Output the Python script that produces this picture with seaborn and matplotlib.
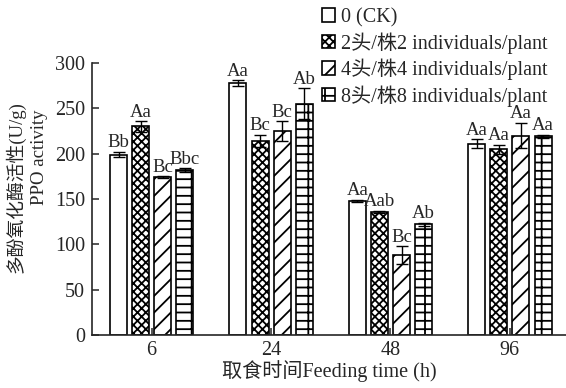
# PPO activity vs feeding time, grouped bars with hatches

import pandas as pd
import seaborn as sns
import matplotlib.pyplot as plt

# values
times = ['6', '24', '48', '96']
groups = ['0 (CK)', '2头/株2 individuals/plant',
          '4头/株4 individuals/plant', '8头/株8 individuals/plant']
ppo_ck = [199, 278, 148, 211]
ppo_2 = [230, 214, 136, 205]
ppo_4 = [174, 225, 88, 220]
ppo_8 = [182, 255, 122, 219]
sd_ck = [3, 3, 1, 5]
sd_2 = [6, 7, 1, 5]
sd_4 = [1, 11, 10, 14]
sd_8 = [2, 17, 2, 2]
letters_ck = ['Bb', 'Aa', 'Aa', 'Aa']
letters_2 = ['Aa', 'Bc', 'Aab', 'Aa']
letters_4 = ['Bc', 'Bc', 'Bc', 'Aa']
letters_8 = ['Bbc', 'Ab', 'Ab', 'Aa']
hatches = ['', 'xxxx', '//', '--|']

values = [ppo_ck, ppo_2, ppo_4, ppo_8]
sds = [sd_ck, sd_2, sd_4, sd_8]
letters = [letters_ck, letters_2, letters_4, letters_8]

df = pd.DataFrame({
    'time': times * 4,
    'group': [g for g in groups for _ in times],
    'ppo': ppo_ck + ppo_2 + ppo_4 + ppo_8,
})

FS = 14.5
sns.set_style('ticks')
plt.rcParams['font.family'] = ['Liberation Serif', 'Noto Sans CJK SC']
plt.rcParams['font.size'] = FS
plt.rcParams['hatch.linewidth'] = 1.3
plt.rcParams['hatch.color'] = 'black'

fig = plt.figure(figsize=(5.66, 3.88), dpi=100)
ax = fig.add_axes([0.1625, 0.1366, 0.8375, 0.701])

sns.barplot(data=df, x='time', y='ppo', hue='group', order=times,
            hue_order=groups, palette=['white'] * 4, edgecolor='black',
            linewidth=1.2, width=0.74, gap=0.23, errorbar=None,
            legend=False, ax=ax)

for cont, h, v, s, lab in zip(ax.containers, hatches, values, sds, letters):
    xs = []
    for bar in cont:
        bar.set_hatch(h)
        xs.append(bar.get_x() + bar.get_width() / 2)
    ax.errorbar(xs, v, yerr=s, fmt='none', ecolor='black', elinewidth=1,
                capsize=4, capthick=1)
    for x, y, e, t in zip(xs, v, s, lab):
        ax.annotate(t, (x, y + e), xytext=(0, 0.3), textcoords='offset points',
                    ha='center', va='bottom', fontsize=13.5)

ax.set_xlim(-0.5, 3.47)
ax.set_ylim(0, 300)
ax.set_yticks(range(0, 301, 50))
ax.tick_params(direction='in', length=5, width=1.1)
ax.tick_params(axis='y', pad=5)
ax.tick_params(axis='x', pad=4.5)
sns.despine(ax=ax)
for sp in ['left', 'bottom']:
    ax.spines[sp].set_linewidth(1.2)

ax.set_xlabel('取食时间Feeding time (h)', labelpad=0)
ax.set_ylabel('')
fig.text(15 / 566, 1 - 187 / 388, '多酚氧化酶活性(U/g)', rotation=90,
         ha='center', va='center', fontsize=13.5)
fig.text(39 / 566, 1 - 157 / 388, 'PPO activity', rotation=90,
         ha='center', va='center', fontsize=13.5)

ax.legend(ax.containers, groups, loc='upper left',
          bbox_to_anchor=(312 / 566, 1.006), bbox_transform=fig.transFigure,
          frameon=False, borderpad=0, handlelength=0.65, handleheight=0.65,
          handletextpad=0.3, labelspacing=0.25, fontsize=FS)

fig.savefig('out.png', dpi=100)
